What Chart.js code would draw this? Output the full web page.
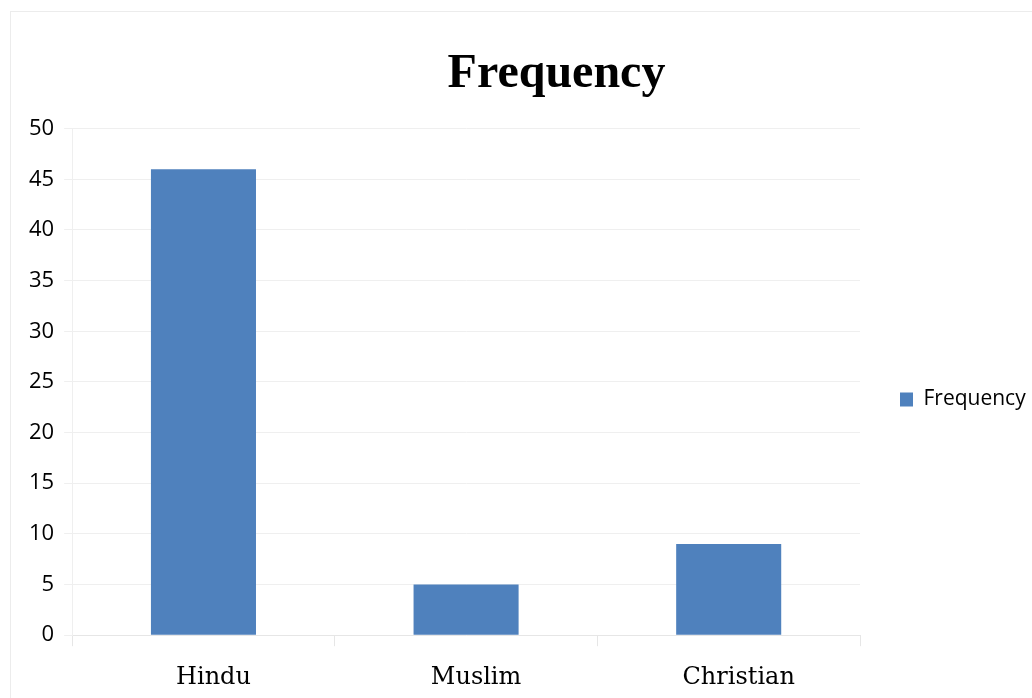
<!DOCTYPE html>
<html>
<head>
<meta charset="utf-8">
<script src="https://cdn.jsdelivr.net/npm/chart.js@4.4.0/dist/chart.umd.min.js"></script>
<style>
  html, body { margin: 0; padding: 0; background: #fff; }
  #wrap { width: 1032px; height: 698px; }
</style>
</head>
<body>
<div id="wrap"><canvas id="freqChart"></canvas></div>
<script>
// religion categories and counts
const religions = ["Hindu", "Muslim", "Christian"];
const frequency = [46, 5, 9];
const seriesName = "Frequency";

// light frame round the whole chart
const framePlugin = {
    id: "frame",
    beforeDraw(chart) {
        const ctx = chart.ctx;
        ctx.save();
        ctx.strokeStyle = "#ececec";
        ctx.lineWidth = 1;
        ctx.strokeRect(10.5, 11.5, 1040, 700);
        ctx.restore();
    }
};

// legend in the original is wider than its box and hangs off the right edge,
// and the title sits right of the canvas centre
const layoutTweaks = {
    id: "layoutTweaks",
    afterInit(chart) {
        const lg = chart.legend;
        if (lg) {
            const fit = lg.fit;
            lg.fit = function () {
                fit.call(this);
                this.width = 172;
            };
        }
    },
    afterLayout(chart) {
        const t = chart.titleBlock;
        if (t) { t.left += 31; t.right += 31; }
        const lg = chart.legend;
        if (lg) { lg.top += 45; lg.bottom += 45; }
    }
};

var freqChart = new Chart(document.getElementById("freqChart"), {
    type: "bar",
    data: {
        labels: religions,
        datasets: [{
            label: seriesName,
            backgroundColor: "#4f81bd",
            data: frequency,
            barPercentage: 0.4,
            categoryPercentage: 1.0
        }]
    },
    options: {
        responsive: true,
        maintainAspectRatio: false,
        animation: false,
        layout: { padding: { left: 19, right: 0, top: 0, bottom: -11 } },
        plugins: {
            title: {
                display: true,
                text: "Frequency",
                color: "#000",
                font: { family: "'Liberation Serif', 'Times New Roman', serif", size: 48, weight: "bold" },
                padding: { top: 46, bottom: 25 }
            },
            legend: {
                position: "right",
                labels: {
                    boxWidth: 13,
                    boxHeight: 14,
                    padding: 40,
                    color: "#000",
                    font: { family: "'Open Sans', sans-serif", size: 21 }
                }
            },
            tooltip: { enabled: false }
        },
        scales: {
            x: {
                offset: true,
                grid: { display: true, drawOnChartArea: false, color: "#e6e6e6", tickLength: 11, offset: true },
                border: { color: "#e6e6e6" },
                ticks: {
                    color: "#000",
                    padding: 17,
                    labelOffset: 10,
                    font: { family: "'DejaVu Serif', serif", size: 24 }
                }
            },
            y: {
                min: 0,
                max: 50,
                grid: { color: "#efefef", tickLength: 8 },
                border: { color: "#efefef" },
                ticks: {
                    stepSize: 5,
                    color: "#000",
                    padding: 10,
                    font: { family: "'Open Sans', sans-serif", size: 22 }
                }
            }
        }
    },
    plugins: [framePlugin, layoutTweaks]
});
</script>
</body>
</html>
